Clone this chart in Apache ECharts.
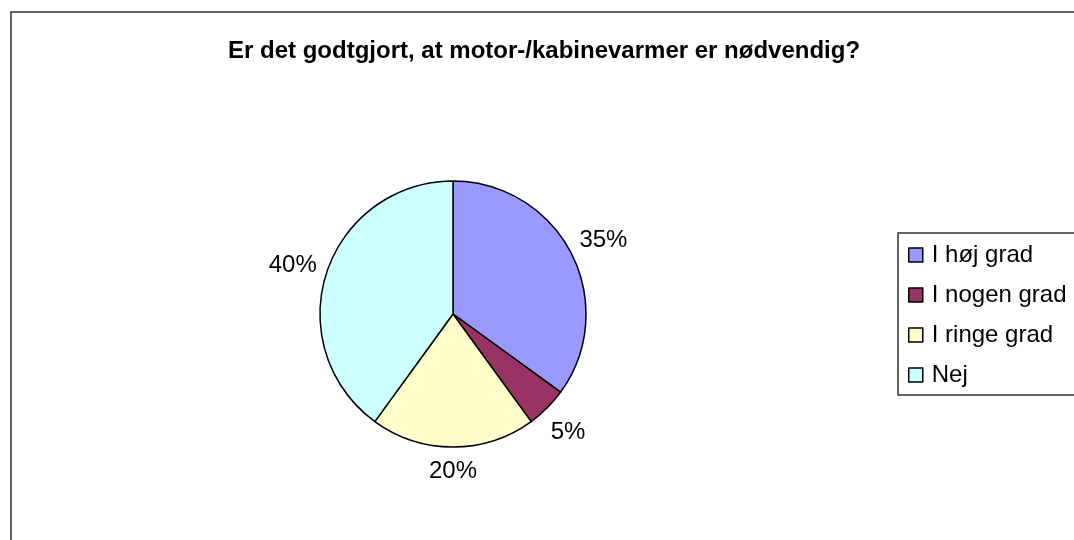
<!DOCTYPE html>
<html>
<head>
<meta charset="utf-8">
<script src="https://cdn.jsdelivr.net/npm/echarts@6/dist/echarts.min.js"></script>
<style>
  html, body { margin: 0; padding: 0; background: #fff; }
  #chart { width: 1074px; height: 540px; }
</style>
</head>
<body>
<div id="chart"></div>
<script>
const titleText = 'Er det godtgjort, at motor-/kabinevarmer er nødvendig?';
const categories = ['I høj grad', 'I nogen grad', 'I ringe grad', 'Nej'];
const shares = [35, 5, 20, 40];
const colors = ['#9999ff', '#993366', '#ffffcc', '#ccffff'];

const font = '"Liberation Sans", Arial, sans-serif';
let myChart = echarts.init(document.getElementById('chart'));

// label box sits just outside the slice, centred on the bisector (Excel style)
function placeLabel(p) {
	const pts = p.labelLinePoints;
	if (!pts) return {};
	let dx = pts[1][0] - pts[0][0], dy = pts[1][1] - pts[0][1];
	const len = Math.hypot(dx, dy) || 1;
	dx /= len; dy /= len;
	const off = 9 + Math.abs(dx) * p.labelRect.width / 2 + Math.abs(dy) * p.labelRect.height / 2;
	return {
		x: pts[0][0] + dx * off,
		y: pts[0][1] + dy * off + 3,
		align: 'center',
		verticalAlign: 'middle'
	};
}

let option = {
	animation: false,
	color: colors,
	graphic: [{
		type: 'rect',
		shape: { x: 11, y: 12, width: 1100, height: 600 },
		style: { fill: 'none', stroke: '#333', lineWidth: 1.5 },
		silent: true
	}],
	title: {
		text: titleText,
		left: 223,
		top: 34,
		textStyle: { fontFamily: font, fontSize: 24, fontWeight: 'bold', color: '#000' }
	},
	legend: {
		orient: 'vertical',
		left: 898,
		top: 233,
		padding: [10, 14, 8, 10],
		borderColor: '#333',
		borderWidth: 1.5,
		itemWidth: 14,
		itemHeight: 14,
		itemGap: 16,
		icon: 'rect',
		itemStyle: { borderColor: '#000', borderWidth: 1.5 },
		textStyle: { fontFamily: font, fontSize: 24, lineHeight: 22, color: '#000', padding: [0, 0, 0, 4] },
		data: categories
	},
	series: [{
		type: 'pie',
		center: [453, 314],
		radius: 133,
		startAngle: 90,
		clockwise: true,
		itemStyle: { borderColor: '#000', borderWidth: 1.5 },
		label: {
			show: true,
			position: 'outside',
			formatter: '{d}%',
			fontFamily: font,
			fontSize: 24,
			color: '#000'
		},
		labelLine: { show: true, length: 10, length2: 0, lineStyle: { width: 0, opacity: 0 } },
		labelLayout: placeLabel,
		emphasis: { disabled: true },
		data: categories.map((name, i) => ({ name: name, value: shares[i] }))
	}]
};
myChart.setOption(option);
</script>
</body>
</html>
